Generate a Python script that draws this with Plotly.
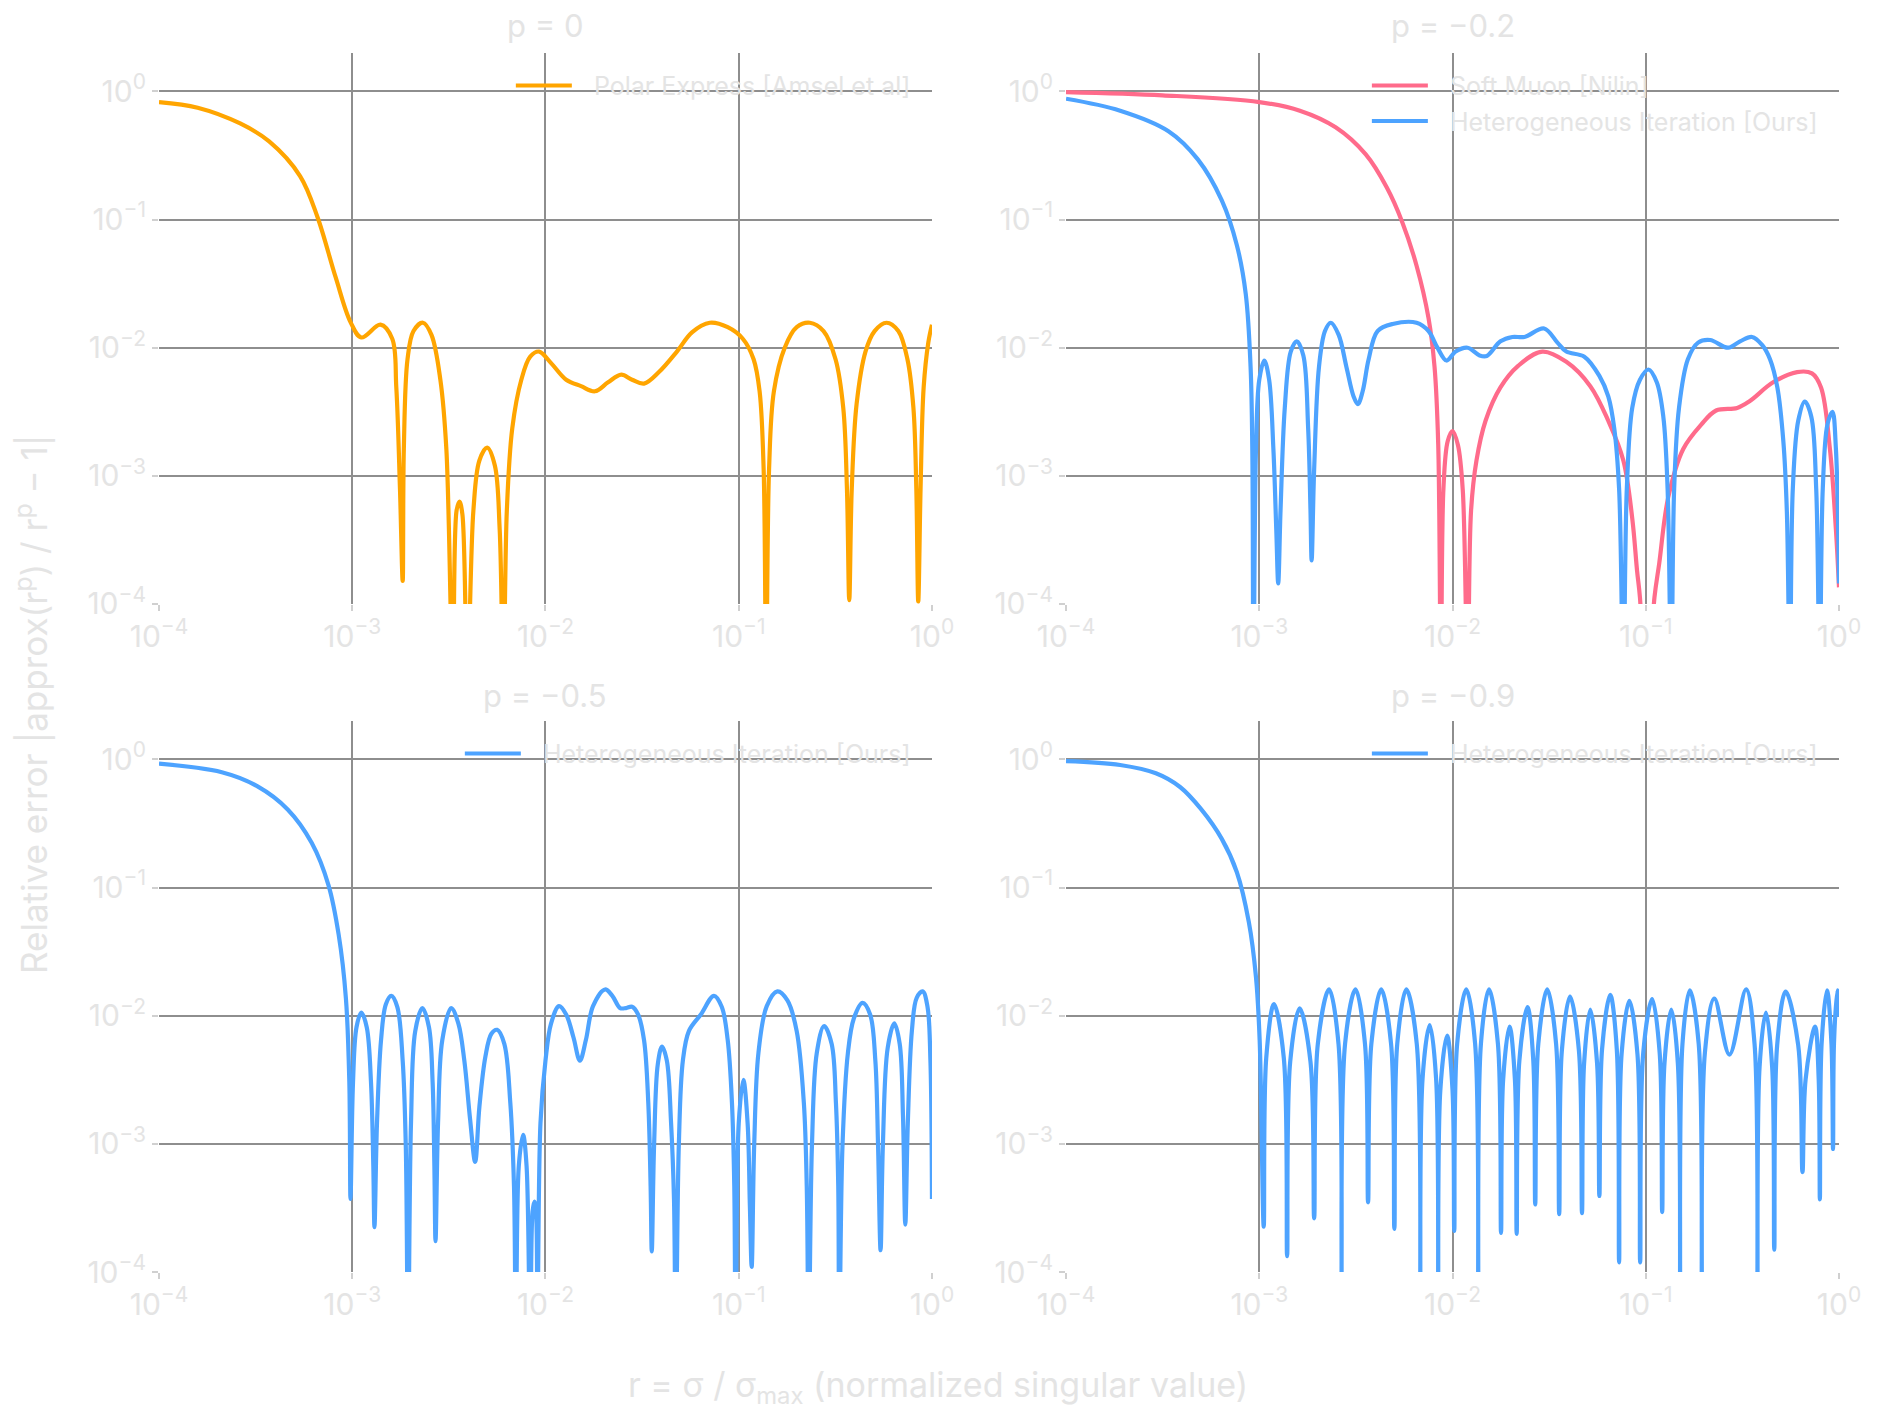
import numpy as np
import plotly.graph_objects as go

# ---------------- data (log10 units) ----------------
# each pair: (log10 r, log10 relative error); zero crossings sit below the axis (-4.6)
TICK_VALS = [1e-4, 1e-3, 1e-2, 1e-1, 1]
TICK_TEXT = ["10<sup>−4</sup>", "10<sup>−3</sup>", "10<sup>−2</sup>", "10<sup>−1</sup>", "10<sup>0</sup>"]
PANEL_TITLES = ["p = 0", "p = −0.2", "p = −0.5", "p = −0.9"]
SERIES_NAMES = ["Polar Express [Amsel et al]", "Soft Muon [Nilin]", "Heterogeneous Iteration [Ours]"]

polar_express_p0 = [(-4.0,-0.083),(-3.80,-0.127),(-3.58,-0.25),(-3.43,-0.39),(-3.27,-0.66),(-3.18,-0.98),(-3.086,-1.45),
    (-3.009,-1.80),(-2.953,-1.92),(-2.854,-1.82),(-2.793,-1.93),(-2.772,-2.31),(-2.753,-3.10),(-2.739,-3.82),(-2.733,-2.79),
    (-2.714,-2.09),(-2.683,-1.87),(-2.634,-1.805),(-2.59,-1.90),(-2.544,-2.25),(-2.513,-2.79),(-2.479,-4.6),(-2.46,-3.27),
    (-2.445,-3.20),(-2.43,-3.30),(-2.404,-4.6),(-2.373,-3.27),(-2.342,-2.88),(-2.302,-2.78),(-2.262,-2.92),(-2.237,-3.42),
    (-2.218,-4.6),(-2.20,-3.27),(-2.172,-2.63),(-2.125,-2.25),(-2.079,-2.07),(-2.033,-2.03),(-1.971,-2.12),(-1.893,-2.25),
    (-1.816,-2.30),(-1.744,-2.34),(-1.676,-2.27),(-1.608,-2.21),(-1.552,-2.25),(-1.49,-2.28),(-1.413,-2.19),(-1.32,-2.03),
    (-1.242,-1.88),(-1.15,-1.805),(-1.057,-1.84),(-0.979,-1.93),(-0.923,-2.09),(-0.892,-2.34),(-0.871,-2.95),(-0.858,-4.6),
    (-0.843,-2.95),(-0.818,-2.34),(-0.762,-2.0),(-0.70,-1.84),(-0.632,-1.805),(-0.561,-1.87),(-0.499,-2.09),(-0.459,-2.47),
    (-0.44,-3.1),(-0.428,-3.97),(-0.415,-3.1),(-0.39,-2.44),(-0.344,-2.03),(-0.297,-1.87),(-0.235,-1.805),(-0.174,-1.87),
    (-0.127,-2.09),(-0.096,-2.47),(-0.081,-3.1),(-0.071,-3.98),(-0.059,-3.1),(-0.043,-2.31),(-0.019,-1.96),(0.0,-1.82)]

soft_muon_p02 = [(-4.0,-0.005),(-3.5,-0.03),(-3.0,-0.083),(-2.79,-0.15),(-2.605,-0.28),(-2.45,-0.49),(-2.34,-0.75),
    (-2.26,-1.02),(-2.186,-1.36),(-2.124,-1.77),(-2.093,-2.15),(-2.074,-2.75),(-2.06,-4.6),(-2.047,-3.1),(-2.025,-2.73),
    (-2.0,-2.65),(-1.972,-2.76),(-1.947,-3.11),(-1.922,-4.6),(-1.904,-3.27),(-1.876,-2.88),(-1.829,-2.57),(-1.752,-2.31),
    (-1.659,-2.14),(-1.535,-2.03),(-1.411,-2.11),(-1.287,-2.30),(-1.194,-2.57),(-1.116,-2.88),(-1.07,-3.33),(-1.045,-3.74),
    (-1.03,-3.95),(-0.996,-4.8),(-0.955,-3.95),(-0.93,-3.68),(-0.884,-3.17),(-0.806,-2.79),(-0.713,-2.60),(-0.636,-2.49),
    (-0.527,-2.47),(-0.465,-2.42),(-0.341,-2.27),(-0.217,-2.19),(-0.14,-2.20),(-0.093,-2.31),(-0.047,-2.79),(-0.016,-3.42),
    (0.0,-3.87)]

hetero_p02 = [(-4.0,-0.057),(-3.72,-0.15),(-3.47,-0.31),(-3.318,-0.53),(-3.194,-0.85),(-3.116,-1.20),(-3.07,-1.58),
    (-3.045,-2.15),(-3.036,-2.80),(-3.03,-4.6),(-3.017,-2.79),(-3.0,-2.25),(-2.974,-2.10),(-2.949,-2.25),(-2.927,-2.79),
    (-2.912,-3.42),(-2.902,-3.84),(-2.89,-3.27),(-2.868,-2.47),(-2.837,-2.03),(-2.806,-1.95),(-2.772,-2.06),(-2.747,-2.63),
    (-2.735,-3.27),(-2.729,-3.66),(-2.716,-2.95),(-2.691,-2.15),(-2.66,-1.87),(-2.63,-1.805),(-2.589,-1.90),(-2.549,-2.15),
    (-2.512,-2.38),(-2.49,-2.44),(-2.465,-2.34),(-2.434,-2.09),(-2.388,-1.87),(-2.31,-1.815),(-2.186,-1.805),(-2.124,-1.87),
    (-2.078,-2.0),(-2.031,-2.10),(-1.984,-2.03),(-1.922,-2.0),(-1.86,-2.06),(-1.823,-2.065),(-1.752,-1.95),(-1.69,-1.916),
    (-1.628,-1.916),(-1.526,-1.85),(-1.457,-1.96),(-1.411,-2.03),(-1.318,-2.07),(-1.24,-2.22),(-1.194,-2.38),(-1.163,-2.63),
    (-1.138,-3.1),(-1.116,-4.6),(-1.098,-3.1),(-1.07,-2.47),(-1.03,-2.25),(-0.986,-2.17),(-0.943,-2.27),(-0.909,-2.54),
    (-0.887,-3.1),(-0.868,-4.6),(-0.853,-3.1),(-0.828,-2.47),(-0.782,-2.09),(-0.729,-1.96),(-0.667,-1.94),(-0.574,-2.0),
    (-0.512,-1.95),(-0.45,-1.916),(-0.397,-1.98),(-0.357,-2.09),(-0.319,-2.31),(-0.288,-2.73),(-0.27,-3.27),(-0.254,-4.6),
    (-0.239,-3.1),(-0.211,-2.57),(-0.177,-2.42),(-0.143,-2.54),(-0.118,-3.1),(-0.1,-4.6),(-0.084,-3.1),(-0.06,-2.6),
    (-0.034,-2.5),(-0.016,-2.79),(0.0,-3.84)]

hetero_p05 = [(-4.0,-0.033),(-3.675,-0.10),(-3.49,-0.21),(-3.334,-0.39),(-3.21,-0.65),(-3.123,-0.98),(-3.07,-1.37),
    (-3.033,-1.86),(-3.015,-2.52),(-3.009,-3.43),(-2.996,-2.52),(-2.978,-2.09),(-2.953,-1.975),(-2.925,-2.09),(-2.903,-2.52),
    (-2.891,-3.17),(-2.885,-3.65),(-2.872,-2.84),(-2.851,-2.19),(-2.826,-1.91),(-2.798,-1.845),(-2.767,-1.93),(-2.739,-2.35),
    (-2.723,-3.01),(-2.711,-4.6),(-2.696,-2.84),(-2.674,-2.12),(-2.637,-1.94),(-2.603,-2.09),(-2.584,-2.52),(-2.575,-3.17),
    (-2.569,-3.76),(-2.556,-2.84),(-2.534,-2.19),(-2.488,-1.94),(-2.451,-2.06),(-2.42,-2.35),(-2.39,-2.81),(-2.364,-3.14),
    (-2.342,-2.71),(-2.311,-2.32),(-2.28,-2.14),(-2.25,-2.11),(-2.213,-2.22),(-2.182,-2.68),(-2.163,-3.33),(-2.153,-4.6),
    (-2.138,-3.17),(-2.116,-2.93),(-2.098,-3.17),(-2.079,-4.6),(-2.067,-3.53),(-2.057,-3.45),(-2.048,-3.56),(-2.042,-4.6),
    (-2.026,-2.84),(-2.0,-2.35),(-1.971,-2.06),(-1.93,-1.925),(-1.893,-1.99),(-1.855,-2.17),(-1.822,-2.35),(-1.791,-2.19),
    (-1.754,-1.925),(-1.692,-1.795),(-1.654,-1.845),(-1.614,-1.94),(-1.583,-1.94),(-1.552,-1.93),(-1.521,-1.99),(-1.49,-2.19),
    (-1.468,-2.68),(-1.456,-3.33),(-1.45,-3.84),(-1.438,-3.01),(-1.419,-2.38),(-1.397,-2.24),(-1.372,-2.35),(-1.35,-2.84),
    (-1.335,-3.43),(-1.326,-4.6),(-1.31,-3.01),(-1.289,-2.35),(-1.258,-2.12),(-1.196,-1.99),(-1.128,-1.845),(-1.088,-1.93),
    (-1.057,-2.19),(-1.035,-2.68),(-1.023,-3.33),(-1.016,-4.6),(-1.0,-2.84),(-0.976,-2.5),(-0.954,-2.84),(-0.942,-3.5),
    (-0.933,-3.96),(-0.92,-3.01),(-0.898,-2.29),(-0.855,-1.925),(-0.80,-1.81),(-0.748,-1.88),(-0.70,-2.12),(-0.663,-2.68),
    (-0.648,-3.33),(-0.638,-4.6),(-0.621,-3.01),(-0.596,-2.29),(-0.558,-2.08),(-0.519,-2.22),(-0.497,-2.68),(-0.485,-3.33),
    (-0.48,-4.6),(-0.463,-3.01),(-0.435,-2.29),(-0.404,-2.02),(-0.359,-1.90),(-0.32,-1.99),(-0.293,-2.35),(-0.279,-3.01),
    (-0.266,-3.83),(-0.254,-3.01),(-0.229,-2.25),(-0.195,-2.06),(-0.167,-2.22),(-0.15,-2.78),(-0.138,-3.63),(-0.125,-2.84),
    (-0.104,-2.12),(-0.079,-1.86),(-0.048,-1.81),(-0.023,-1.93),(-0.008,-2.35),(0.0,-3.43)]

hetero_p09 = [(-4.0,-0.013),(-3.72,-0.043),(-3.535,-0.108),(-3.41,-0.215),(-3.30,-0.39),(-3.194,-0.62),(-3.116,-0.88),
    (-3.054,-1.27),(-3.017,-1.70),(-2.998,-2.19),(-2.977,-3.646),
    (-2.964,-2.33),(-2.924,-1.91),(-2.873,-2.33),(-2.856,-3.876),
    (-2.840,-2.36),(-2.791,-1.943),(-2.735,-2.36),(-2.716,-3.581),
    (-2.697,-2.22),(-2.639,-1.795),(-2.590,-2.22),(-2.574,-4.6),
    (-2.556,-2.22),(-2.502,-1.795),(-2.453,-2.22),(-2.437,-3.456),
    (-2.420,-2.22),(-2.369,-1.795),(-2.318,-2.22),(-2.301,-3.663),
    (-2.286,-2.22),(-2.239,-1.795),(-2.185,-2.22),(-2.167,-4.6),
    (-2.155,-2.49),(-2.118,-2.074),(-2.085,-2.49),(-2.074,-4.6),
    (-2.063,-2.58),(-2.028,-2.156),(-2.000,-2.58),(-1.991,-3.679),
    (-1.976,-2.22),(-1.929,-1.795),(-1.883,-2.22),(-1.867,-4.6),
    (-1.853,-2.22),(-1.811,-1.795),(-1.765,-2.22),(-1.749,-3.695),
    (-1.738,-2.50),(-1.705,-2.084),(-1.677,-2.50),(-1.668,-3.702),
    (-1.654,-2.35),(-1.612,-1.933),(-1.582,-2.35),(-1.572,-3.473),
    (-1.556,-2.22),(-1.510,-1.795),(-1.464,-2.22),(-1.448,-3.548),
    (-1.434,-2.27),(-1.392,-1.851),(-1.346,-2.27),(-1.330,-3.541),
    (-1.319,-2.37),(-1.287,-1.952),(-1.252,-2.37),(-1.240,-3.407),
    (-1.226,-2.26),(-1.184,-1.838),(-1.150,-2.26),(-1.138,-3.925),
    (-1.125,-2.30),(-1.085,-1.884),(-1.043,-2.30),(-1.029,-3.925),
    (-1.013,-2.29),(-0.967,-1.871),(-0.928,-2.29),(-0.915,-3.532),
    (-0.903,-2.37),(-0.868,-1.952),(-0.834,-2.37),(-0.822,-4.6),
    (-0.810,-2.22),(-0.772,-1.802),(-0.726,-2.22),(-0.710,-4.6),
    (-0.694,-2.29),(-0.645,-1.867),(-0.567,-2.303),(-0.481,-1.795),(-0.437,-2.22),(-0.422,-4.6),
    (-0.411,-2.40),(-0.378,-1.975),(-0.346,-2.40),(-0.335,-3.826),
    (-0.320,-2.23),(-0.276,-1.812),(-0.211,-2.23),(-0.189,-3.220),
    (-0.173,-2.50),(-0.124,-2.084),(-0.105,-2.50),(-0.099,-3.433),
    (-0.090,-2.22),(-0.062,-1.802),(-0.039,-2.22),(-0.031,-3.040),
    (-0.026,-2.22),(-0.009,-1.802),(0.0,-2.008)]

COLORS = {"orange": "#FFA500", "pink": "#FF6B8B", "blue": "#4DA3FF"}

# ---------------- figure ----------------
TEXT = "#e4e4e4"
GRID = "#8e8e8e"
FONT = "Inter"
GAP = "\u2002\u2009"   # spacing between legend line sample and its label

fig = go.Figure()

def add(series, name, color, n, legend):
    lr = np.array([p[0] for p in series])
    le = np.array([p[1] for p in series])
    sfx = "" if n == 1 else str(n)
    fig.add_trace(go.Scatter(
        x=10 ** lr, y=10 ** le, mode="lines", name=GAP + name, showlegend=True,
        line=dict(color=color, width=4.2, shape="spline", smoothing=1.0),
        xaxis="x" + sfx, yaxis="y" + sfx, legend=legend, hoverinfo="skip"))

add(polar_express_p0, SERIES_NAMES[0], COLORS["orange"], 1, "legend")
add(soft_muon_p02, SERIES_NAMES[1], COLORS["pink"], 2, "legend2")
add(hetero_p02, SERIES_NAMES[2], COLORS["blue"], 2, "legend2")
add(hetero_p05, SERIES_NAMES[2], COLORS["blue"], 3, "legend3")
add(hetero_p09, SERIES_NAMES[2], COLORS["blue"], 4, "legend4")

XL = [0.0, 0.4601]
XR = [0.5399, 1.0]
YT = [0.548, 1.0]
YB = [0.0, 0.452]

def xax(dom, anchor):
    return dict(domain=dom, anchor=anchor, type="log", range=[-4, 0],
                tickvals=TICK_VALS, ticktext=TICK_TEXT, showgrid=True,
                gridcolor=GRID, gridwidth=1.5, zeroline=False, showline=False,
                ticks="outside", ticklen=6, tickwidth=1.5, tickcolor="#d0d0d0",
                tickfont=dict(family=FONT, size=30, color=TEXT))

def yax(dom, anchor):
    d = xax(dom, anchor)
    d["range"] = [-4, 0.3]
    return d

lay = dict(
    width=1880, height=1424,
    margin=dict(l=159, r=41, t=53, b=152),
    paper_bgcolor="white", plot_bgcolor="white",
    showlegend=True,
    font=dict(family=FONT, color=TEXT, size=25),
    xaxis=xax(XL, "y"), yaxis=yax(YT, "x"),
    xaxis2=xax(XR, "y2"), yaxis2=yax(YT, "x2"),
    xaxis3=xax(XL, "y3"), yaxis3=yax(YB, "x3"),
    xaxis4=xax(XR, "y4"), yaxis4=yax(YB, "x4"),
)

leg_common = dict(xanchor="right", yanchor="top", bgcolor="rgba(0,0,0,0)",
                  font=dict(family=FONT, size=25, color=TEXT), itemwidth=56,
                  tracegroupgap=0)
lay["legend"] = dict(x=XL[1] - 0.0096, y=YT[1] - 0.008, **leg_common)
lay["legend2"] = dict(x=XR[1] - 0.0096, y=YT[1] - 0.008, **leg_common)
lay["legend3"] = dict(x=XL[1] - 0.0096, y=YB[1] - 0.008, **leg_common)
lay["legend4"] = dict(x=XR[1] - 0.0096, y=YB[1] - 0.008, **leg_common)

fig.update_layout(**lay)

title_pos = [((XL[0] + XL[1]) / 2, 1.0222), ((XR[0] + XR[1]) / 2, 1.0222),
             ((XL[0] + XL[1]) / 2, 0.4733), ((XR[0] + XR[1]) / 2, 0.4733)]
for t, (x, y) in zip(PANEL_TITLES, title_pos):
    fig.add_annotation(text=t, x=x, y=y, xref="paper", yref="paper", showarrow=False,
                       xanchor="center", yanchor="middle",
                       font=dict(family=FONT, size=31, color=TEXT))

fig.add_annotation(text="r = σ / σ<sub>max</sub> (normalized singular value)",
                   x=0.4637, y=-0.0943, xref="paper", yref="paper", showarrow=False,
                   xanchor="center", yanchor="middle",
                   font=dict(family=FONT, size=34, color=TEXT))
fig.add_annotation(text="Relative error |approx(r<sup>p</sup>) / r<sup>p</sup> − 1|",
                   x=-0.0756, y=0.466, xref="paper", yref="paper", showarrow=False,
                   textangle=-90, xanchor="center", yanchor="middle",
                   font=dict(family=FONT, size=35, color=TEXT))

fig.write_html("out.html")
